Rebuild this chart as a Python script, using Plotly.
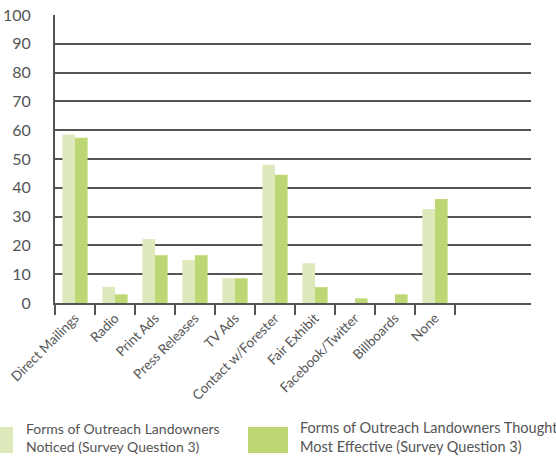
import plotly.graph_objects as go

categories = ["Direct Mailings", "Radio", "Print Ads", "Press Releases", "TV Ads",
              "Contact w/Forester", "Fair Exhibit", "Facebook/Twitter", "Billboards", "None"]
noticed = [58.5, 5.6, 22.2, 14.9, 8.6, 48.0, 13.8, 0, 0, 32.6]
effective = [57.4, 3.0, 16.6, 16.6, 8.6, 44.5, 5.5, 1.6, 3.0, 36.1]
y_ticks = [0, 10, 20, 30, 40, 50, 60, 70, 80, 90, 100]
series_names = ["Forms of Outreach Landowners<br>Noticed (Survey Question 3)",
                "Forms of Outreach Landowners Thought<br>Most Effective (Survey Question 3)"]

LIGHT = "#dde9bb"
DARK = "#bdd873"
GRAY = "#555555"
FONT = "Lato"

fig = go.Figure()
fig.add_trace(go.Bar(x=categories, y=noticed, marker=dict(color=LIGHT, line=dict(width=0)),
                     name=series_names[0], showlegend=False))
fig.add_trace(go.Bar(x=categories, y=effective, marker=dict(color=DARK, line=dict(width=0)),
                     name=series_names[1], showlegend=False))

fig.update_layout(
    width=556, height=458,
    margin=dict(l=55, r=25, t=15, b=155, autoexpand=False),
    paper_bgcolor="white", plot_bgcolor="white",
    barmode="group", bargap=0.37, bargroupgap=0,
    font=dict(family=FONT, color=GRAY, size=15),
)
fig.update_xaxes(
    type="category", categoryorder="array", categoryarray=categories,
    range=[-0.5, 11.4], tickangle=-45, tickson="boundaries", automargin=False,
    ticks="outside", ticklen=10, tickwidth=2, tickcolor=GRAY,
    showline=True, linecolor=GRAY, linewidth=2, showgrid=False,
    tickfont=dict(size=13.5, family=FONT, color=GRAY),
)
fig.update_yaxes(
    range=[0, 100], tickvals=y_ticks, showgrid=True, gridcolor=GRAY, gridwidth=2,
    showline=True, linecolor=GRAY, linewidth=2, zeroline=False, automargin=False,
    ticks="", ticklabelstandoff=19,
    tickfont=dict(size=16, family=FONT, color=GRAY),
)

# manual legend
fig.add_shape(type="rect", xref="paper", yref="paper",
              x0=(-27 - 55) / 476, x1=(13 - 55) / 476,
              y0=-(453 - 303) / 288, y1=-(427 - 303) / 288,
              fillcolor=LIGHT, line=dict(width=0))
fig.add_shape(type="rect", xref="paper", yref="paper",
              x0=(248 - 55) / 476, x1=(288 - 55) / 476,
              y0=-(453 - 303) / 288, y1=-(427 - 303) / 288,
              fillcolor=DARK, line=dict(width=0))
fig.add_annotation(xref="paper", yref="paper", x=(24 - 55) / 476, y=-(437 - 303) / 288,
                   text=series_names[0], showarrow=False, xanchor="left", yanchor="middle",
                   align="left", font=dict(size=14, family=FONT, color=GRAY))
fig.add_annotation(xref="paper", yref="paper", x=(298 - 55) / 476, y=-(437 - 303) / 288,
                   text=series_names[1], showarrow=False, xanchor="left", yanchor="middle",
                   align="left", font=dict(size=14.5, family=FONT, color=GRAY))

fig.write_html("out.html", config={"displayModeBar": False},
               post_script="document.body.style.margin='0';")
